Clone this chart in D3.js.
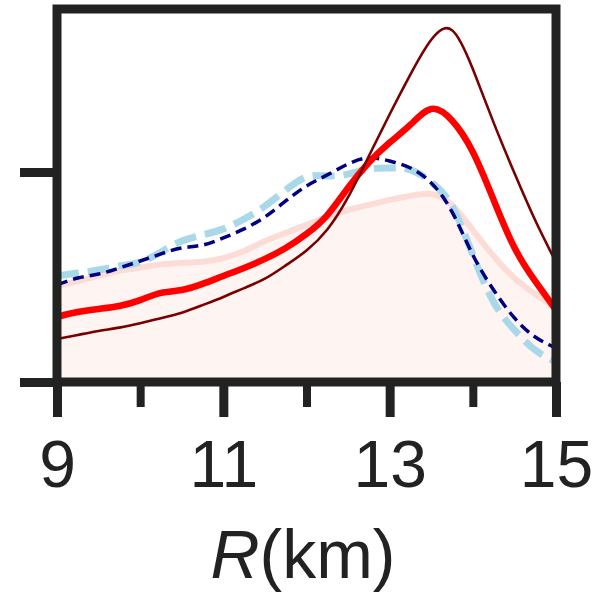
<!DOCTYPE html>
<html>
<head>
<meta charset="utf-8">
<script src="https://cdn.jsdelivr.net/npm/d3@7"></script>
<style>
  html, body { margin: 0; padding: 0; background: #ffffff; }
  svg { display: block; }
  text { font-family: "Liberation Sans", Arial, Helvetica, sans-serif; fill: #222222; }
</style>
</head>
<body>
<svg id="chart" width="596" height="594"></svg>
<script>
// Radius grid (km) shared by every distribution curve
const radius = [9.00, 9.25, 9.50, 9.75, 10.00, 10.25, 10.50, 10.75, 11.00, 11.25, 11.50, 11.75,
                12.00, 12.25, 12.50, 12.75, 13.00, 13.25, 13.50, 13.75, 14.00, 14.25, 14.50, 14.75, 15.00];

// Probability densities (arbitrary units; the marked tick on the y axis is 1)
const densityDarkRed = [0.205, 0.224, 0.243, 0.259, 0.280, 0.304, 0.330, 0.366, 0.405, 0.447, 0.492, 0.555,
                        0.626, 0.726, 0.880, 1.076, 1.275, 1.465, 1.630, 1.675, 1.490, 1.235, 0.995, 0.770, 0.570];
const densityRed = [0.310, 0.333, 0.348, 0.362, 0.390, 0.424, 0.438, 0.467, 0.505, 0.543, 0.586, 0.638,
                    0.705, 0.795, 0.925, 1.045, 1.140, 1.225, 1.300, 1.245, 1.095, 0.867, 0.640, 0.480, 0.343];
const densityNavy = [0.462, 0.495, 0.514, 0.543, 0.576, 0.610, 0.638, 0.652, 0.686, 0.729, 0.786, 0.862,
                     0.933, 0.986, 1.038, 1.067, 1.052, 1.019, 0.948, 0.810, 0.605, 0.438, 0.305, 0.214, 0.162];
const densityLightBlue = [0.505, 0.519, 0.533, 0.552, 0.571, 0.619, 0.671, 0.700, 0.729, 0.776, 0.838, 0.914,
                          0.976, 0.981, 0.990, 1.014, 1.019, 1.010, 0.952, 0.838, 0.605, 0.381, 0.248, 0.152, 0.095];
const densityPrior = [0.457, 0.481, 0.505, 0.530, 0.545, 0.560, 0.567, 0.573, 0.590, 0.624, 0.671, 0.710,
                      0.748, 0.786, 0.819, 0.843, 0.867, 0.886, 0.895, 0.843, 0.724, 0.600, 0.495, 0.419, 0.352];

// Axis ticks
const majorTicksR = [9, 11, 13, 15];
const minorTicksR = [10, 12, 14];
const densityTicks = [0, 1];
const densityMax = 1.776;

const svg = d3.select("#chart");
const plotLeft = 57, plotRight = 556, plotTop = 9, plotBottom = 382;
const frameColor = "#222222";

const x = d3.scaleLinear().domain([9, 15]).range([plotLeft, plotRight]);
const y = d3.scaleLinear().domain([0, densityMax]).range([plotBottom, plotTop]);

svg.append("defs").append("clipPath").attr("id", "plotClip")
  .append("rect").attr("x", plotLeft).attr("y", plotTop)
  .attr("width", plotRight - plotLeft).attr("height", plotBottom - plotTop);

const plot = svg.append("g").attr("clip-path", "url(#plotClip)");

const toPoints = vals => radius.map((r, i) => [r, vals[i]]);
const line = d3.line().x(d => x(d[0])).y(d => y(d[1])).curve(d3.curveNatural);
const area = d3.area().x(d => x(d[0])).y0(y(0)).y1(d => y(d[1])).curve(d3.curveNatural);

// Prior: shaded area with a soft outline
plot.append("path").attr("d", area(toPoints(densityPrior)))
  .attr("fill", "#fef4f2").attr("stroke", "none");
plot.append("path").attr("d", line(toPoints(densityPrior)))
  .attr("fill", "none").attr("stroke", "#fbdcd7").attr("stroke-width", 6);

const series = [
  { vals: densityLightBlue, color: "#a9d9e8", width: 7, dash: "22,9" },
  { vals: densityNavy, color: "#000080", width: 3.5, dash: "11,6" },
  { vals: densityRed, color: "#ff0000", width: 6.5, dash: null },
  { vals: densityDarkRed, color: "#7a0000", width: 2.6, dash: null }
];
series.forEach(s => {
  plot.append("path").attr("d", line(toPoints(s.vals)))
    .attr("fill", "none").attr("stroke", s.color)
    .attr("stroke-width", s.width)
    .attr("stroke-linejoin", "round")
    .attr("stroke-dasharray", s.dash);
});

// Frame
svg.append("rect").attr("x", plotLeft).attr("y", plotTop)
  .attr("width", plotRight - plotLeft).attr("height", plotBottom - plotTop)
  .attr("fill", "none").attr("stroke", frameColor).attr("stroke-width", 9);

function styleAxis(g, w) {
  g.select(".domain").remove();
  g.selectAll(".tick line").attr("stroke", frameColor).attr("stroke-width", w);
}

// Major x ticks with labels
const xMajor = svg.append("g").attr("transform", `translate(0,${plotBottom})`)
  .call(d3.axisBottom(x).tickValues(majorTicksR).tickSize(35).tickFormat(d3.format("d")));
styleAxis(xMajor, 9);
xMajor.selectAll(".tick text")
  .attr("y", 105).attr("dy", 0)
  .attr("font-size", 66).attr("fill", "#222222")
  .style("font-family", "'Liberation Sans', Arial, sans-serif");

// Minor x ticks
const xMinor = svg.append("g").attr("transform", `translate(0,${plotBottom})`)
  .call(d3.axisBottom(x).tickValues(minorTicksR).tickSize(25).tickFormat(""));
styleAxis(xMinor, 8);

// Unlabelled y ticks
const yAxis = svg.append("g").attr("transform", `translate(${plotLeft},0)`)
  .call(d3.axisLeft(y).tickValues(densityTicks).tickSize(37).tickFormat(""));
styleAxis(yAxis, 9);

// Axis title
const title = svg.append("text")
  .attr("x", 303).attr("y", 578)
  .attr("text-anchor", "middle").attr("font-size", 68);
title.append("tspan").attr("font-style", "italic").text("R");
title.append("tspan").text("(km)");
</script>
</body>
</html>
